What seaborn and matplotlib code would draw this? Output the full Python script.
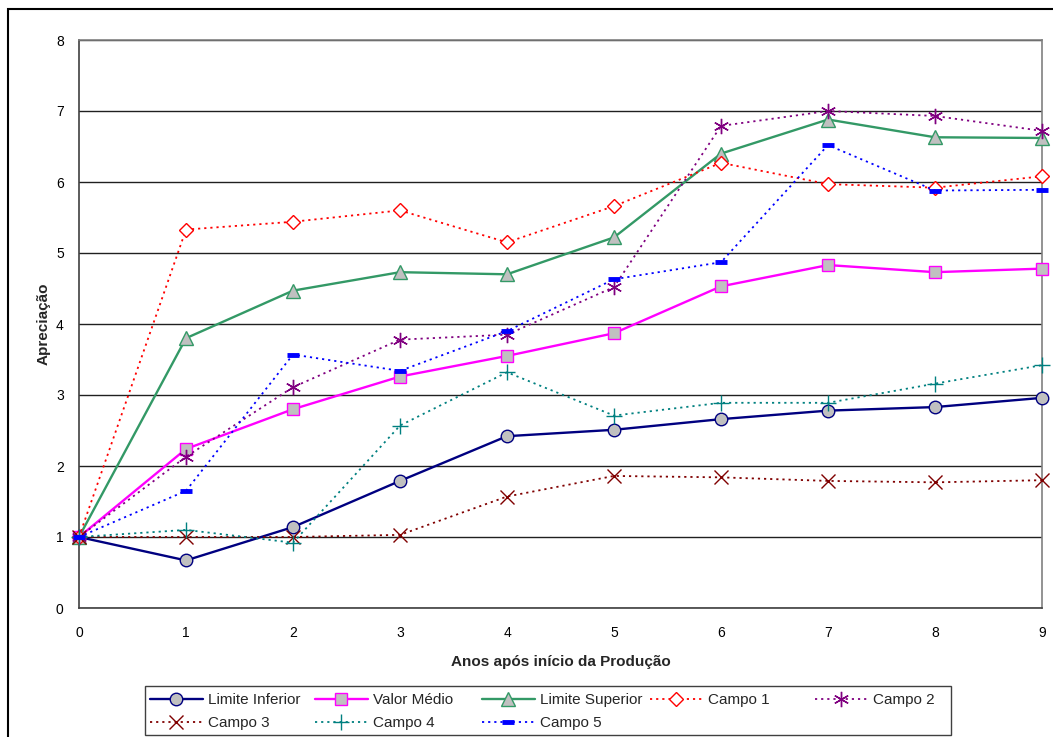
import matplotlib
matplotlib.use("Agg")
import matplotlib.pyplot as plt
import seaborn as sns
import pandas as pd
from matplotlib.patches import Rectangle

# Anos após início da produção
anos = [0, 1, 2, 3, 4, 5, 6, 7, 8, 9]

limite_inferior = [1.00, 0.67, 1.14, 1.79, 2.42, 2.51, 2.66, 2.78, 2.83, 2.96]
valor_medio = [1.00, 2.24, 2.80, 3.26, 3.55, 3.87, 4.53, 4.83, 4.73, 4.78]
limite_superior = [1.00, 3.80, 4.47, 4.73, 4.70, 5.22, 6.40, 6.88, 6.63, 6.62]
campo_1 = [1.00, 5.33, 5.44, 5.60, 5.15, 5.66, 6.27, 5.97, 5.92, 6.08]
campo_2 = [1.00, 2.13, 3.11, 3.78, 3.85, 4.52, 6.79, 7.00, 6.93, 6.72]
campo_3 = [1.00, 1.00, 1.00, 1.03, 1.57, 1.86, 1.84, 1.79, 1.77, 1.80]
campo_4 = [1.00, 1.10, 0.92, 2.57, 3.32, 2.71, 2.89, 2.89, 3.16, 3.42]
campo_5 = [1.00, 1.65, 3.57, 3.34, 3.90, 4.63, 4.87, 6.52, 5.88, 5.89]

sns.set_theme(style="white")
plt.rcParams["font.family"] = ["Liberation Sans", "DejaVu Sans"]

W, H = 1053, 737
fig = plt.figure(figsize=(W / 100, H / 100), dpi=100)
ax = fig.add_axes([79 / W, 1 - 608 / H, (1042 - 79) / W, (608 - 40) / H])

asterisk = (6, 2, 0)
dot = (0, (1.2, 2.2))
series = [
    ("Limite Inferior", limite_inferior, dict(color="#000080", linestyle="-", linewidth=1.7,
                                              marker="o", markersize=9, markerfacecolor="#C0C0C0",
                                              markeredgecolor="#000080", markeredgewidth=1.0)),
    ("Valor Médio", valor_medio, dict(color="#FF00FF", linestyle="-", linewidth=1.7,
                                      marker="s", markersize=9, markerfacecolor="#C0C0C0",
                                      markeredgecolor="#FF00FF", markeredgewidth=1.0)),
    ("Limite Superior", limite_superior, dict(color="#339966", linestyle="-", linewidth=1.7,
                                              marker="^", markersize=10, markerfacecolor="#C0C0C0",
                                              markeredgecolor="#339966", markeredgewidth=1.0)),
    ("Campo 1", campo_1, dict(color="#FF0000", linestyle=dot, linewidth=1.3,
                              marker="D", markersize=7, markerfacecolor="white",
                              markeredgecolor="#FF0000", markeredgewidth=1.0)),
    ("Campo 2", campo_2, dict(color="#800080", linestyle=dot, linewidth=1.3,
                              marker=asterisk, markersize=11, markeredgecolor="#800080",
                              markeredgewidth=1.0)),
    ("Campo 3", campo_3, dict(color="#800000", linestyle=dot, linewidth=1.3,
                              marker="x", markersize=10, markeredgecolor="#800000",
                              markeredgewidth=1.0)),
    ("Campo 4", campo_4, dict(color="#008080", linestyle=dot, linewidth=1.3,
                              marker="+", markersize=12, markeredgecolor="#008080",
                              markeredgewidth=1.0)),
    ("Campo 5", campo_5, dict(color="#0000FF", linestyle=dot, linewidth=1.3,
                              marker="_", markersize=8, markeredgecolor="#0000FF",
                              markeredgewidth=3.5)),
]

for nome, valores, estilo in series:
    df = pd.DataFrame({"Ano": anos, "Valor": valores})
    sns.lineplot(data=df, x="Ano", y="Valor", ax=ax, label=nome, sort=False,
                 errorbar=None, legend=False, clip_on=False, zorder=3, **estilo)

ax.set_xlim(0, 9)
ax.set_ylim(0, 8)
ax.set_xticks(anos)
ax.set_yticks(range(0, 9))
ax.tick_params(axis="both", which="both", direction="out", length=5, width=1,
               color="#404040", labelsize=10, labelcolor="black")
ax.tick_params(axis="y", pad=6)
ax.tick_params(axis="x", pad=8)
ax.yaxis.grid(True, color="#202020", linewidth=1.0)
ax.xaxis.grid(False)
ax.set_axisbelow(True)
for side, sp in ax.spines.items():
    sp.set_visible(True)
    sp.set_color("#808080")
    sp.set_linewidth(1.2)
ax.spines["left"].set_color("#404040")
ax.spines["bottom"].set_color("#404040")

ax.set_xlabel("Anos após início da Produção", fontsize=11, fontweight="bold", labelpad=11)
ax.set_ylabel("Apreciação", fontsize=11, fontweight="bold", labelpad=4)

# Legend laid out row by row in five equal-width columns inside one frame
handles, labels = ax.get_legend_handles_labels()
lookup = dict(zip(labels, handles))
colunas = [["Limite Inferior", "Campo 3"], ["Valor Médio", "Campo 4"],
           ["Limite Superior", "Campo 5"], ["Campo 1"], ["Campo 2"]]
col_x = [150, 315, 482, 650, 815]
for x0, nomes in zip(col_x, colunas):
    fig.legend([lookup[n] for n in nomes], nomes, loc="upper left",
               bbox_to_anchor=(x0 / W, 1 - 693 / H), fontsize=11, frameon=False,
               handlelength=3.45, handletextpad=0.35, borderpad=0,
               borderaxespad=0, labelspacing=0.6)
fig.patches.append(Rectangle((145 / W, 1 - 735 / H), 806 / W, 49 / H,
                             transform=fig.transFigure, fill=False,
                             edgecolor="#404040", linewidth=1.0))

# Chart area border
fig.patches.append(Rectangle((8 / W, -0.1), 1.2, 1 - 9 / H + 0.1,
                             transform=fig.transFigure, fill=False,
                             edgecolor="black", linewidth=1.5))

fig.savefig("out.png", dpi=100, facecolor="white")
